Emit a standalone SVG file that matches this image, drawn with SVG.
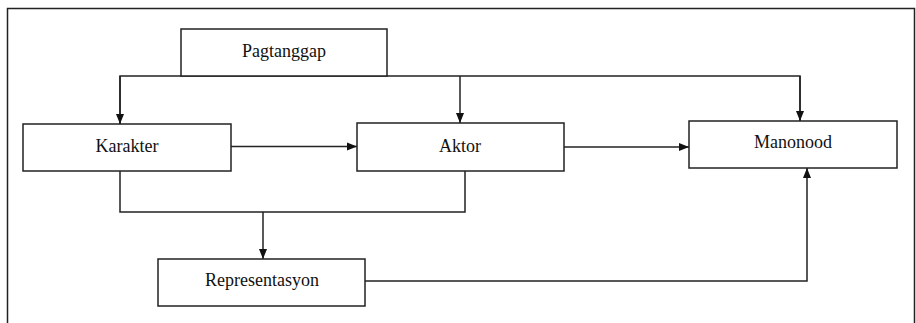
<svg xmlns="http://www.w3.org/2000/svg" width="916" height="323" viewBox="0 0 916 323">
<style>
.box{fill:#fff;stroke:#222;stroke-width:1.5}
.lbl{font-family:"Liberation Serif","Times New Roman",serif;font-size:18px;fill:#111;text-anchor:middle}
.ln{fill:none;stroke:#222;stroke-width:1.5}
</style>
<defs>
<marker id="ah" viewBox="0 0 10 10" refX="10" refY="5" markerWidth="10" markerHeight="10" markerUnits="userSpaceOnUse" orient="auto">
<path d="M0,1 L10,5 L0,9 Z" fill="#111"/>
</marker>
</defs>
<rect x="0" y="0" width="916" height="323" fill="#fff"/>
<path d="M7.5,340 V8.5 H914.5 V340" class="ln"/>
<g id="connectors">
<path d="M120,124 V76 H800 V121" class="ln"/>
<path d="M120,76 V124" class="ln" marker-end="url(#ah)"/>
<path d="M460,76 V123" class="ln" marker-end="url(#ah)"/>
<path d="M800,76 V121" class="ln" marker-end="url(#ah)"/>
<path d="M231,146.5 H357" class="ln" marker-end="url(#ah)"/>
<path d="M564,147 H689" class="ln" marker-end="url(#ah)"/>
<path d="M120,171 V212 H465 V171" class="ln"/>
<path d="M263,212 V259" class="ln" marker-end="url(#ah)"/>
<path d="M365,281 H807 V168" class="ln" marker-end="url(#ah)"/>
</g>
<g id="pagtanggap"><rect class="box" x="181" y="29" width="206" height="47"/><text class="lbl" x="284" y="57">Pagtanggap</text></g>
<g id="karakter"><rect class="box" x="23" y="124" width="208" height="47"/><text class="lbl" x="127" y="152">Karakter</text></g>
<g id="aktor"><rect class="box" x="357" y="123" width="207" height="48"/><text class="lbl" x="460" y="152">Aktor</text></g>
<g id="manonood"><rect class="box" x="689" y="121" width="208" height="47"/><text class="lbl" x="793" y="148">Manonood</text></g>
<g id="representasyon"><rect class="box" x="158" y="259" width="207" height="47"/><text class="lbl" x="262" y="286">Representasyon</text></g>
</svg>
